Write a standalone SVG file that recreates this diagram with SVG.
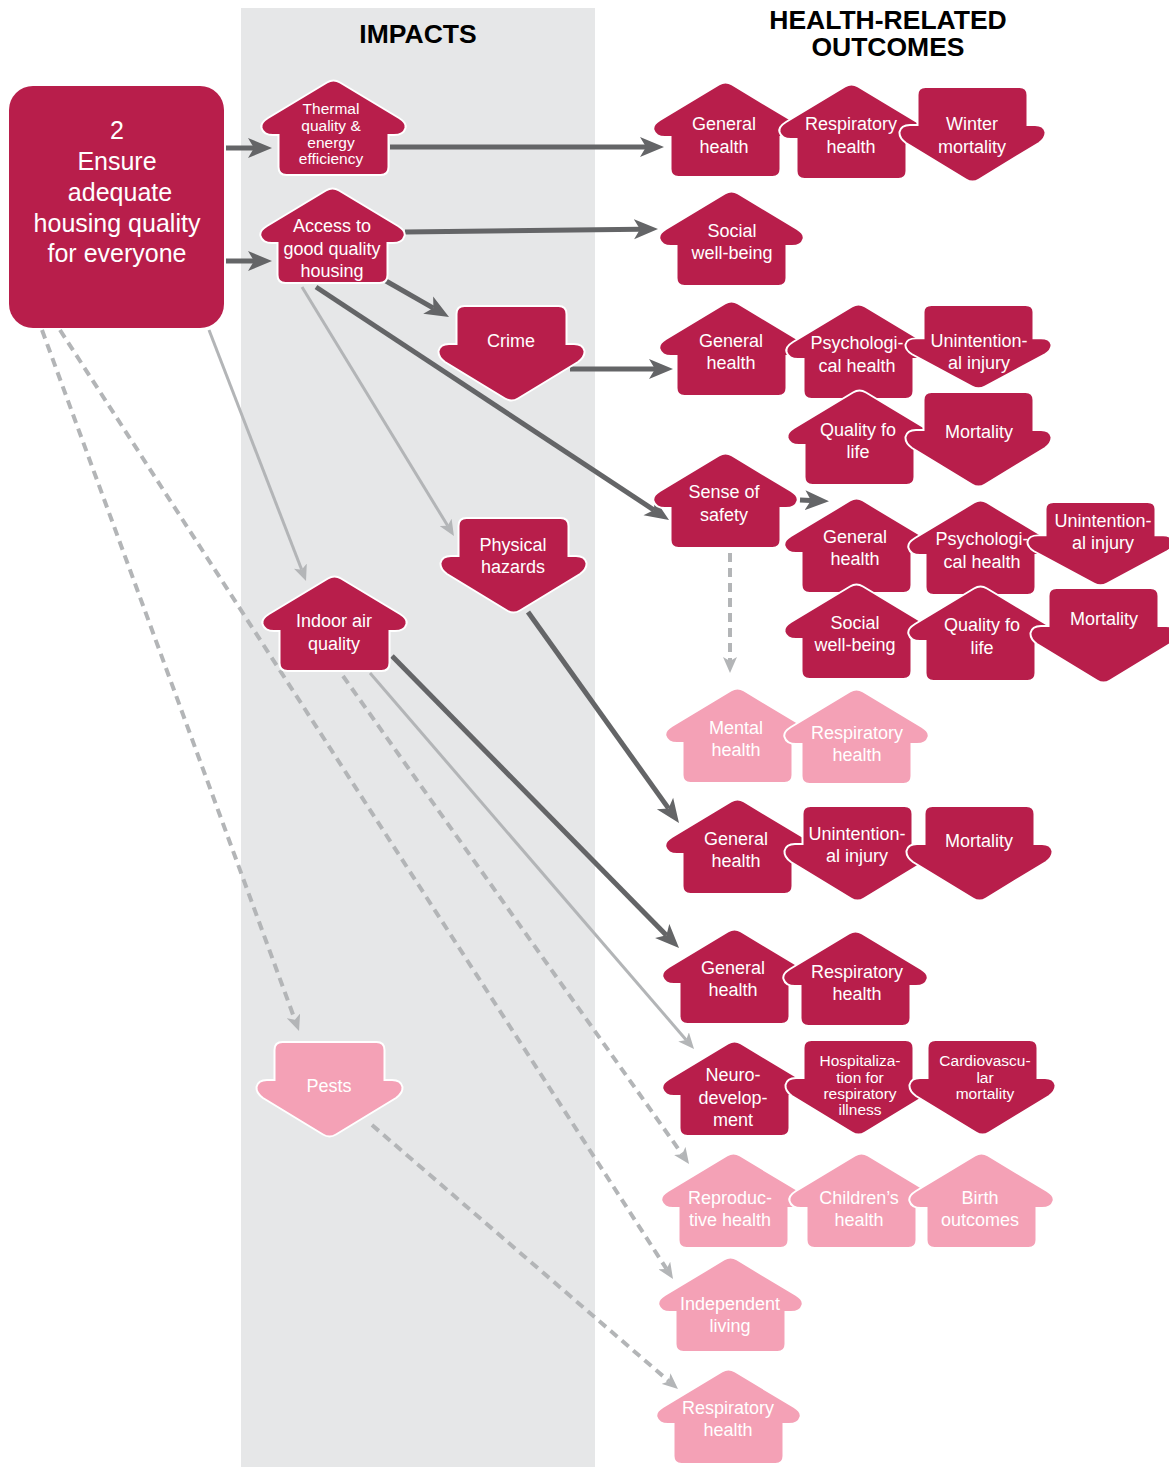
<svg xmlns="http://www.w3.org/2000/svg" xmlns:xlink="http://www.w3.org/1999/xlink" width="1169" height="1467" viewBox="0 0 1169 1467">
<style>
.dk{fill:#B81E4B;stroke:#fff;stroke-width:2}
.pk{fill:#F4A1B6;stroke:#fff;stroke-width:2}
.t{font-family:"Liberation Sans",Arial,sans-serif;font-size:18px;fill:#fff;text-anchor:middle}
.ts{font-size:15.5px}
.h{font-family:"Liberation Sans",Arial,sans-serif;font-size:26.5px;font-weight:bold;fill:#000;text-anchor:middle}
.cd{stroke:#646567;stroke-width:5;fill:none}
.cl{stroke:#B3B5B7;stroke-width:3;fill:none}
.cx{stroke:#B3B5B7;stroke-width:4;fill:none;stroke-dasharray:9 6}
</style>
<defs>
<path id="house" d="M67 3.5Q73.5 -0.5 80 3.5L139 39Q147 44 145.5 49Q143.5 56 134 56L128.5 56L128.5 88Q128.5 96 120.5 96L26.5 96Q18.5 96 18.5 88L18.5 56L13 56Q3.5 56 1.5 49Q0 44 8 39Z"/>
<path id="down" d="M18.5 8Q18.5 0 26.5 0L120.5 0Q128.5 0 128.5 8L128.5 38L136 38Q145 38 146.5 45Q147 51 140 56L80 92.5Q73.5 96.5 67 92.5L7 56Q0 51 0.5 45Q2 38 11 38L18.5 38Z"/>
<marker id="ad" markerUnits="userSpaceOnUse" markerWidth="24" markerHeight="22" viewBox="0 0 24 22" refX="6" refY="11" orient="auto"><path d="M0 1L24 11L0 21L6 11Z" fill="#646567"/></marker>
<marker id="al" markerUnits="userSpaceOnUse" markerWidth="16" markerHeight="14" viewBox="0 0 16 14" refX="4" refY="7" orient="auto"><path d="M0 0L16 7L0 14L4 7Z" fill="#B3B5B7"/></marker>
</defs>
<rect x="0" y="0" width="1169" height="1467" fill="#fff"/>
<rect x="241" y="8" width="354" height="1459" fill="#E6E7E8"/>
<g id="headers">
<text class="h" x="418" y="43">IMPACTS</text>
<text class="h" x="888" y="29">HEALTH-RELATED</text>
<text class="h" x="888" y="56">OUTCOMES</text>
</g>
<g id="connectors">
<line class="cd" x1="226" y1="148" x2="254" y2="148" marker-end="url(#ad)"/>
<line class="cd" x1="226" y1="261" x2="254" y2="261" marker-end="url(#ad)"/>
<line class="cd" x1="390" y1="147" x2="646" y2="147" marker-end="url(#ad)"/>
<line class="cd" x1="405" y1="232" x2="640" y2="229.2" marker-end="url(#ad)"/>
<line class="cd" x1="386" y1="281" x2="433.4" y2="308.1" marker-end="url(#ad)"/>
<line class="cd" x1="316" y1="287" x2="654" y2="510.1" marker-end="url(#ad)"/>
<line class="cl" x1="302" y1="287" x2="447.7" y2="525.8" marker-end="url(#al)"/>
<line class="cl" x1="209" y1="330" x2="301.7" y2="569.8" marker-end="url(#al)"/>
<line class="cd" x1="570" y1="369" x2="655" y2="369" marker-end="url(#ad)"/>
<line class="cd" x1="800" y1="500" x2="811" y2="500.5" marker-end="url(#ad)"/>
<line class="cx" x1="730" y1="553" x2="730" y2="661" marker-end="url(#al)"/>
<line class="cd" x1="528" y1="612" x2="668.5" y2="808.4" marker-end="url(#ad)"/>
<line class="cd" x1="392" y1="656" x2="666.4" y2="935.2" marker-end="url(#ad)"/>
<line class="cl" x1="370" y1="673" x2="686.2" y2="1039.9" marker-end="url(#al)"/>
<line class="cx" x1="343" y1="676" x2="682.1" y2="1154.2" marker-end="url(#al)"/>
<line class="cx" x1="60" y1="330" x2="666.5" y2="1268.9" marker-end="url(#al)"/>
<line class="cx" x1="42" y1="330" x2="294.9" y2="1019.7" marker-end="url(#al)"/>
<line class="cx" x1="372" y1="1125" x2="668.9" y2="1381.2" marker-end="url(#al)"/>
</g>
<g id="n-goal"><rect x="9" y="86" width="215" height="242" rx="24" fill="#B81E4B"/>
<text class="t" style="font-size:25px"><tspan x="117" y="139">2</tspan><tspan x="117" y="170">Ensure</tspan><tspan x="120" y="201">adequate</tspan><tspan x="117" y="232">housing quality</tspan><tspan x="117" y="262">for everyone</tspan></text></g>
<g id="n-thermal"><use href="#house" class="dk" transform="translate(260,79)"/>
<text class="t ts"><tspan x="331" y="113.5">Thermal</tspan><tspan x="331" y="130.5">quality &amp;</tspan><tspan x="331" y="147.5">energy</tspan><tspan x="331" y="163.5">efficiency</tspan></text></g>
<g id="n-access"><use href="#house" class="dk" transform="translate(259,187)"/>
<text class="t"><tspan x="332" y="232">Access to</tspan><tspan x="332" y="255">good quality</tspan><tspan x="332" y="277">housing</tspan></text></g>
<g id="n-crime"><use href="#down" class="dk" transform="translate(438,306)"/>
<text class="t"><tspan x="511" y="347">Crime</tspan></text></g>
<g id="n-physical"><use href="#down" class="dk" transform="translate(440,518)"/>
<text class="t"><tspan x="513" y="551">Physical</tspan><tspan x="513" y="573">hazards</tspan></text></g>
<g id="n-indoor"><use href="#house" class="dk" transform="translate(261,575)"/>
<text class="t"><tspan x="334" y="627">Indoor air</tspan><tspan x="334" y="650">quality</tspan></text></g>
<g id="n-pests"><use href="#down" class="pk" transform="translate(256,1042)"/>
<text class="t"><tspan x="329" y="1092">Pests</tspan></text></g>

<g id="o-gen1"><use href="#house" class="dk" transform="translate(652,81)"/>
<text class="t"><tspan x="724" y="130">General</tspan><tspan x="724" y="153">health</tspan></text></g>
<g id="o-resp1"><use href="#house" class="dk" transform="translate(778,83)"/>
<text class="t"><tspan x="851" y="130">Respiratory</tspan><tspan x="851" y="153">health</tspan></text></g>
<g id="o-winter"><use href="#down" class="dk" transform="translate(899,87)"/>
<text class="t"><tspan x="972" y="130">Winter</tspan><tspan x="972" y="153">mortality</tspan></text></g>

<g id="o-social1"><use href="#house" class="dk" transform="translate(658,190)"/>
<text class="t"><tspan x="732" y="237">Social</tspan><tspan x="732" y="259">well-being</tspan></text></g>

<g id="o-gen2"><use href="#house" class="dk" transform="translate(658,300)"/>
<text class="t"><tspan x="731" y="347">General</tspan><tspan x="731" y="369">health</tspan></text></g>
<g id="o-psych2"><use href="#house" class="dk" transform="translate(785,303)"/>
<text class="t"><tspan x="857" y="349">Psychologi-</tspan><tspan x="857" y="372">cal health</tspan></text></g>
<g id="o-inj2"><use href="#down" class="dk" transform="translate(905,305) scale(1,0.88)"/>
<text class="t"><tspan x="979" y="347">Unintention-</tspan><tspan x="979" y="369">al injury</tspan></text></g>
<g id="o-qol2"><use href="#house" class="dk" transform="translate(786,389)"/>
<text class="t"><tspan x="858" y="436">Quality fo</tspan><tspan x="858" y="458">life</tspan></text></g>
<g id="o-mort2"><use href="#down" class="dk" transform="translate(905,392)"/>
<text class="t"><tspan x="979" y="438">Mortality</tspan></text></g>

<g id="n-safety"><use href="#house" class="dk" transform="translate(652,452)"/>
<text class="t"><tspan x="724" y="498">Sense of</tspan><tspan x="724" y="521">safety</tspan></text></g>

<g id="o-gen3"><use href="#house" class="dk" transform="translate(783,497)"/>
<text class="t"><tspan x="855" y="543">General</tspan><tspan x="855" y="565">health</tspan></text></g>
<g id="o-psych3"><use href="#house" class="dk" transform="translate(907,499)"/>
<text class="t"><tspan x="982" y="545">Psychologi-</tspan><tspan x="982" y="568">cal health</tspan></text></g>
<g id="o-inj3"><use href="#down" class="dk" transform="translate(1027,502) scale(1,0.88)"/>
<text class="t"><tspan x="1103" y="527">Unintention-</tspan><tspan x="1103" y="549">al injury</tspan></text></g>
<g id="o-social3"><use href="#house" class="dk" transform="translate(783,583)"/>
<text class="t"><tspan x="855" y="629">Social</tspan><tspan x="855" y="651">well-being</tspan></text></g>
<g id="o-qol3"><use href="#house" class="dk" transform="translate(907,585)"/>
<text class="t"><tspan x="982" y="631">Quality fo</tspan><tspan x="982" y="654">life</tspan></text></g>
<g id="o-mort3"><use href="#down" class="dk" transform="translate(1030,588)"/>
<text class="t"><tspan x="1104" y="625">Mortality</tspan></text></g>

<g id="o-mental"><use href="#house" class="pk" transform="translate(664,687)"/>
<text class="t"><tspan x="736" y="734">Mental</tspan><tspan x="736" y="756">health</tspan></text></g>
<g id="o-resp4"><use href="#house" class="pk" transform="translate(783,688)"/>
<text class="t"><tspan x="857" y="739">Respiratory</tspan><tspan x="857" y="761">health</tspan></text></g>

<g id="o-gen5"><use href="#house" class="dk" transform="translate(664,798)"/>
<text class="t"><tspan x="736" y="845">General</tspan><tspan x="736" y="867">health</tspan></text></g>
<g id="o-inj5"><use href="#down" class="dk" transform="translate(784,806)"/>
<text class="t"><tspan x="857" y="840">Unintention-</tspan><tspan x="857" y="862">al injury</tspan></text></g>
<g id="o-mort5"><use href="#down" class="dk" transform="translate(906,806)"/>
<text class="t"><tspan x="979" y="847">Mortality</tspan></text></g>

<g id="o-gen6"><use href="#house" class="dk" transform="translate(661,928)"/>
<text class="t"><tspan x="733" y="974">General</tspan><tspan x="733" y="996">health</tspan></text></g>
<g id="o-resp6"><use href="#house" class="dk" transform="translate(782,930)"/>
<text class="t"><tspan x="857" y="978">Respiratory</tspan><tspan x="857" y="1000">health</tspan></text></g>
<g id="o-neuro"><use href="#house" class="dk" transform="translate(661,1040)"/>
<text class="t"><tspan x="733" y="1081">Neuro-</tspan><tspan x="733" y="1104">develop-</tspan><tspan x="733" y="1126">ment</tspan></text></g>
<g id="o-hosp"><use href="#down" class="dk" transform="translate(785,1040)"/>
<text class="t ts"><tspan x="860" y="1066">Hospitaliza-</tspan><tspan x="860" y="1083">tion for</tspan><tspan x="860" y="1099">respiratory</tspan><tspan x="860" y="1115">illness</tspan></text></g>
<g id="o-cardio"><use href="#down" class="dk" transform="translate(909,1040)"/>
<text class="t ts"><tspan x="985" y="1066">Cardiovascu-</tspan><tspan x="985" y="1083">lar</tspan><tspan x="985" y="1099">mortality</tspan></text></g>

<g id="o-repro"><use href="#house" class="pk" transform="translate(660,1152)"/>
<text class="t"><tspan x="730" y="1204">Reproduc-</tspan><tspan x="730" y="1226">tive health</tspan></text></g>
<g id="o-child"><use href="#house" class="pk" transform="translate(788,1152)"/>
<text class="t"><tspan x="859" y="1204">Children’s</tspan><tspan x="859" y="1226">health</tspan></text></g>
<g id="o-birth"><use href="#house" class="pk" transform="translate(908,1152)"/>
<text class="t"><tspan x="980" y="1204">Birth</tspan><tspan x="980" y="1226">outcomes</tspan></text></g>
<g id="o-indep"><use href="#house" class="pk" transform="translate(657,1256)"/>
<text class="t"><tspan x="730" y="1310">Independent</tspan><tspan x="730" y="1332">living</tspan></text></g>
<g id="o-resp7"><use href="#house" class="pk" transform="translate(655,1368)"/>
<text class="t"><tspan x="728" y="1414">Respiratory</tspan><tspan x="728" y="1436">health</tspan></text></g>
</svg>
